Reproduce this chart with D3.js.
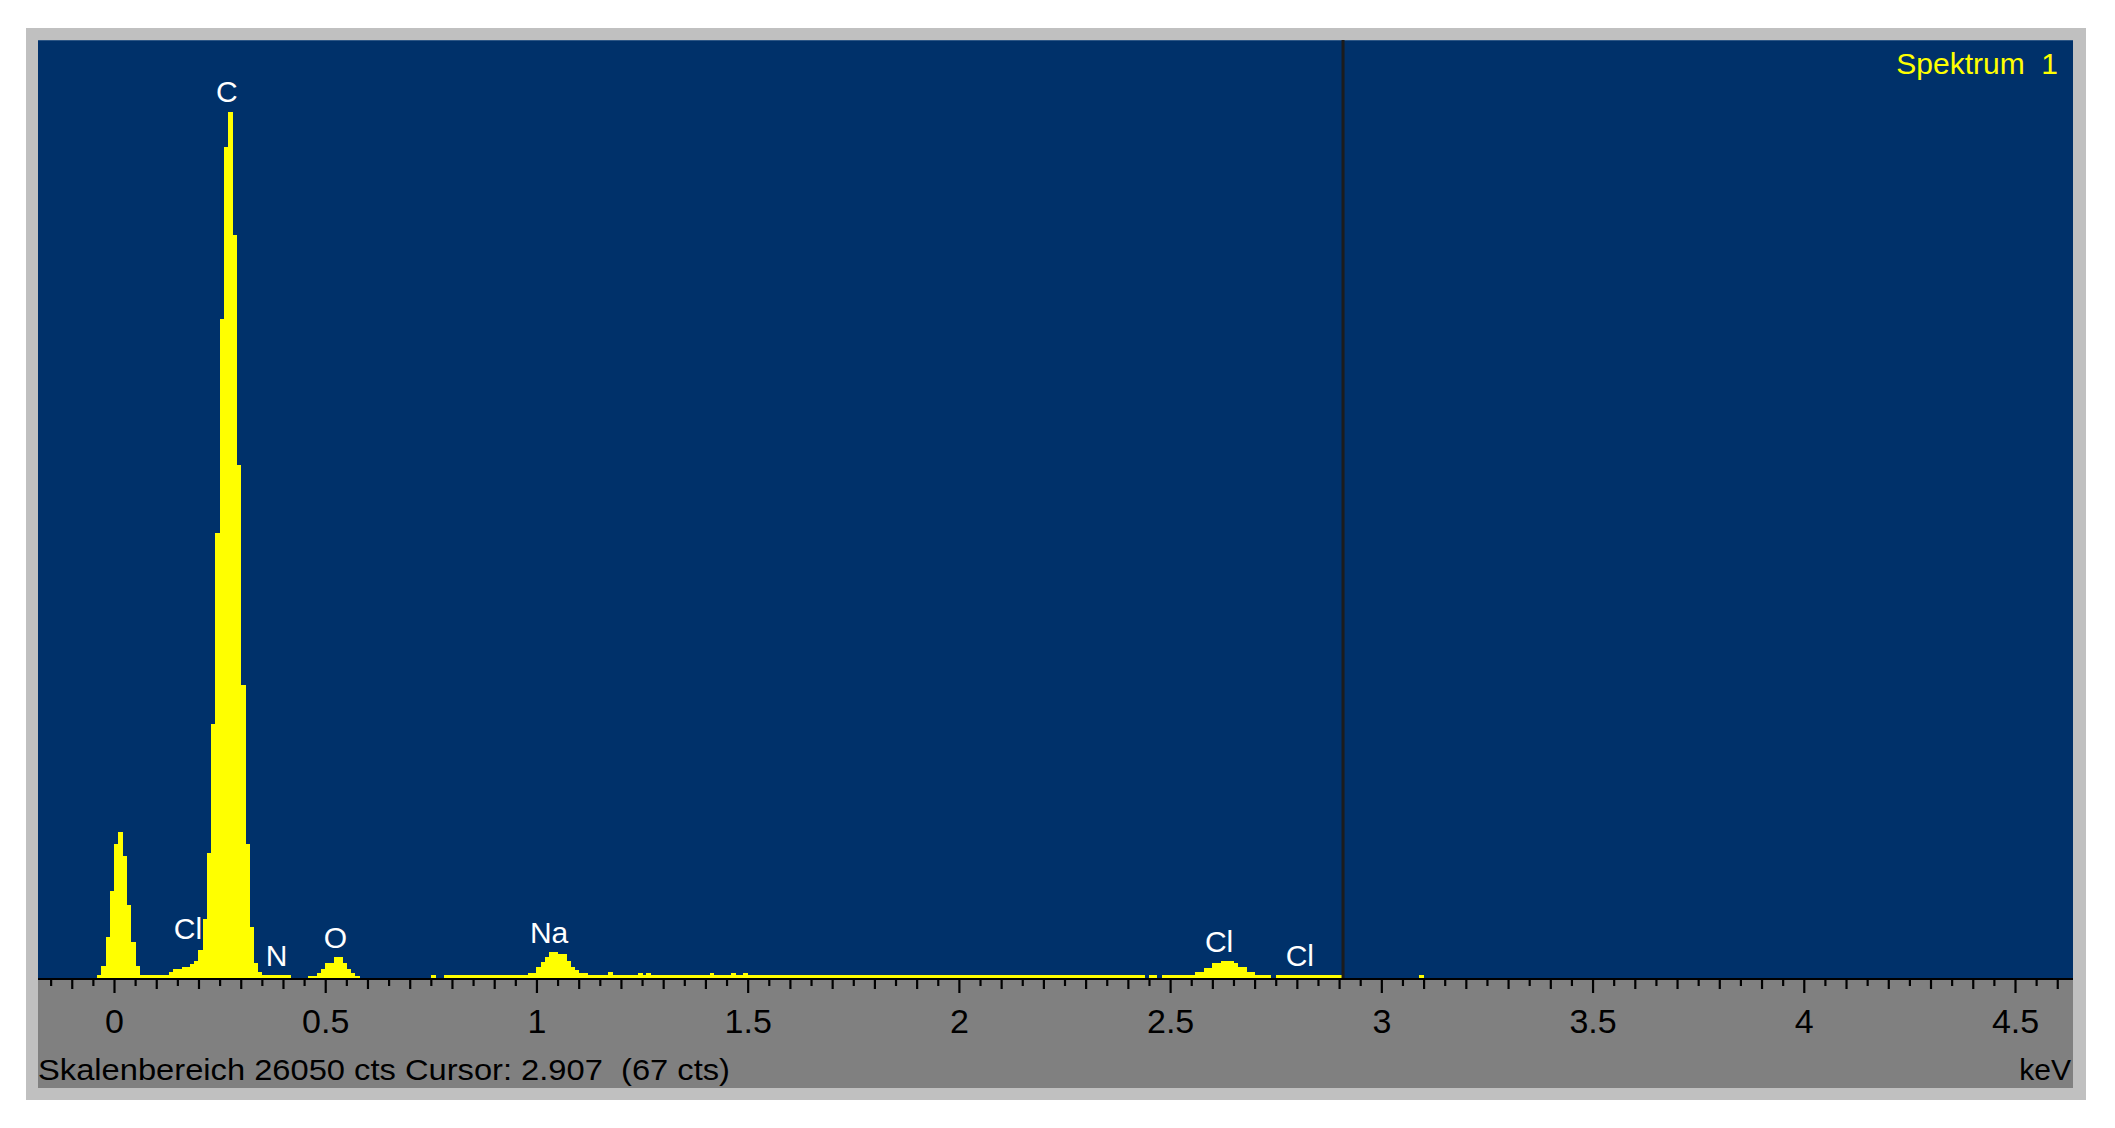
<!DOCTYPE html>
<html>
<head>
<meta charset="utf-8">
<script src="https://cdn.jsdelivr.net/npm/d3@7"></script>
<style>
  html, body { margin: 0; padding: 0; background: #ffffff; }
  svg { display: block; }
  text { font-family: "Liberation Sans", Arial, sans-serif; }
</style>
</head>
<body>
<svg id="chart" width="2115" height="1128"></svg>
<script>
// ---------------- data ----------------
// channel centres (keV) and counts for the peaks (10 eV channels)
const channelKeV = [
  -0.035, -0.025, -0.015, -0.005, 0.005, 0.015, 0.025, 0.035, 0.045, 0.055,
  0.135, 0.145, 0.155, 0.165, 0.175, 0.185, 0.195, 0.205, 0.215, 0.225,
  0.235, 0.245, 0.255, 0.265, 0.275, 0.285, 0.295, 0.305, 0.315, 0.325, 0.335, 0.345,
  0.465, 0.475, 0.485, 0.495, 0.505, 0.515, 0.525, 0.535, 0.545, 0.555, 0.565, 0.575,
  0.755,
  0.985, 0.995, 1.005, 1.015, 1.025, 1.035, 1.045, 1.055, 1.065, 1.075, 1.085, 1.095, 1.105, 1.115,
  1.175, 1.245, 1.265, 1.415, 1.465, 1.495,
  2.565, 2.575, 2.585, 2.595, 2.605, 2.615, 2.625, 2.635, 2.645, 2.655, 2.665, 2.675, 2.685, 2.695
];
const channelCts = [
  83, 333, 1139, 2416, 3721, 4054, 3388, 2027, 1000, 333,
  167, 250, 250, 305, 305, 389, 472, 778, 1638, 3471,
  7054, 12358, 18300, 23077, 24049, 20633, 14246, 8137, 3721, 1416, 417, 167,
  56, 56, 139, 250, 417, 417, 583, 583, 417, 250, 139, 56,
  83,
  147, 147, 314, 453, 575, 730, 730, 666, 666, 480, 314, 222, 147, 147,
  167, 150, 150, 150, 150, 150,
  175, 175, 269, 269, 408, 408, 480, 480, 480, 408, 314, 314, 175, 175
];
// flat background runs: first channel centre, last channel centre, counts
const runFromKeV = [0.065, 0.355, 0.785, 2.455, 2.485, 2.755, 3.095];
const runToKeV   = [0.125, 0.415, 2.435, 2.465, 2.735, 2.905, 3.095];
const runCts     = [83,    83,    75,    75,    75,    75,    75];

const channelWidthKeV = 0.01;

// element labels: text, energy (keV), counts level of the text baseline
const peakLabels    = ["C", "Cl", "N", "O", "Na", "Cl", "Cl"];
const peakLabelKeV  = [0.267, 0.175, 0.385, 0.524, 1.030, 2.616, 2.807];
const peakLabelCts  = [24340, 1083, 341, 841, 980, 730, 341];

// axis
const majorTicks     = [0, 0.5, 1, 1.5, 2, 2.5, 3, 3.5, 4, 4.5];
const majorTickLabels = ["0", "0.5", "1", "1.5", "2", "2.5", "3", "3.5", "4", "4.5"];
const tickStepKeV = 0.05;
const tickFirstKeV = -0.15;
const tickLastKeV = 4.6;

const fullScaleCts = 26050;
const cursorKeV = 2.907;
const cursorCts = 67;
const spectrumName = "Spektrum  1";
const unitLabel = "keV";

// ---------------- drawing ----------------
const svg = d3.select("#chart");

const frame = { x0: 26, y0: 28, x1: 2086, y1: 1100 };
const plot  = { x0: 38, y0: 40, x1: 2073, y1: 978 };
const base  = { y1: 1088 };

const x = d3.scaleLinear().domain([0, 4.5]).range([114, 2015]);
const y = d3.scaleLinear().domain([0, fullScaleCts]).range([plot.y1, plot.y0]);

// outer light-grey frame
svg.append("rect").attr("x", frame.x0).attr("y", frame.y0)
  .attr("width", frame.x1 - frame.x0).attr("height", frame.y1 - frame.y0)
  .attr("fill", "#c0c0c0");

// blue plot area
svg.append("rect").attr("x", plot.x0).attr("y", plot.y0)
  .attr("width", plot.x1 - plot.x0).attr("height", plot.y1 - plot.y0)
  .attr("fill", "#00316a");
svg.append("line").attr("x1", plot.x0).attr("x2", plot.x1)
  .attr("y1", plot.y0 + 0.5).attr("y2", plot.y0 + 0.5)
  .attr("stroke", "#2d5685").attr("stroke-width", 1);

// dark grey axis band
svg.append("rect").attr("x", plot.x0).attr("y", plot.y1)
  .attr("width", plot.x1 - plot.x0).attr("height", base.y1 - plot.y1)
  .attr("fill", "#808080");

const spec = svg.append("g").attr("fill", "#ffff00").attr("shape-rendering", "crispEdges");

// background runs
runFromKeV.forEach((a, i) => {
  const xa = x(a - channelWidthKeV / 2), xb = x(runToKeV[i] + channelWidthKeV / 2);
  spec.append("rect").attr("x", xa).attr("width", xb - xa)
    .attr("y", y(runCts[i])).attr("height", y(0) - y(runCts[i]));
});
// peak channels
channelKeV.forEach((e, i) => {
  const xa = x(e - channelWidthKeV / 2), xb = x(e + channelWidthKeV / 2);
  spec.append("rect").attr("x", xa).attr("width", xb - xa + 0.6)
    .attr("y", y(channelCts[i])).attr("height", y(0) - y(channelCts[i]));
});

// cursor line
svg.append("line")
  .attr("x1", x(cursorKeV) + 1).attr("x2", x(cursorKeV) + 1)
  .attr("y1", plot.y0).attr("y2", plot.y1)
  .attr("stroke", "#1c1c1c").attr("stroke-width", 3);

// axis line
svg.append("rect").attr("x", plot.x0).attr("y", plot.y1)
  .attr("width", plot.x1 - plot.x0).attr("height", 2).attr("fill", "#000");

// ticks via d3 axes (three lengths)
const allTicks = d3.range(Math.round(tickFirstKeV / tickStepKeV), Math.round(tickLastKeV / tickStepKeV) + 1)
  .map(k => +(k * tickStepKeV).toFixed(2));
const isMajor = v => Math.abs(v * 2 - Math.round(v * 2)) < 1e-6;
const isMid = v => !isMajor(v) && Math.abs(v * 10 - Math.round(v * 10)) < 1e-6;
const minorVals = allTicks.filter(v => !isMajor(v) && !isMid(v));
const midVals = allTicks.filter(isMid);

function drawTicks(vals, len) {
  const g = svg.append("g").attr("transform", `translate(0,${plot.y1 + 1})`)
    .call(d3.axisBottom(x).tickValues(vals).tickSize(len).tickFormat(""));
  g.select(".domain").remove();
  g.selectAll(".tick line").attr("stroke", "#000").attr("stroke-width", 2.2);
  return g;
}
drawTicks(minorVals, 7);
drawTicks(midVals, 10);
const gMaj = svg.append("g").attr("transform", `translate(0,${plot.y1 + 1})`)
  .call(d3.axisBottom(x).tickValues(majorTicks).tickSize(14)
    .tickFormat((d, i) => majorTickLabels[i]));
gMaj.select(".domain").remove();
gMaj.selectAll(".tick line").attr("stroke", "#000").attr("stroke-width", 2.2);
gMaj.selectAll(".tick text")
  .attr("y", 54).attr("dy", null)
  .attr("fill", "#000")
  .style("font-family", "'Liberation Sans Narrow', 'Arial Narrow', 'Liberation Sans', sans-serif")
  .style("font-stretch", "condensed")
  .style("font-size", "34px");

// element labels
svg.append("g").selectAll("text").data(peakLabels).join("text")
  .attr("x", (d, i) => x(peakLabelKeV[i]))
  .attr("y", (d, i) => y(peakLabelCts[i]))
  .attr("text-anchor", "middle")
  .attr("fill", "#ffffff")
  .style("font-size", "30px")
  .text(d => d);

// spectrum name
svg.append("text")
  .attr("x", 2058).attr("y", 74)
  .attr("text-anchor", "end")
  .attr("fill", "#ffff00")
  .style("font-size", "30px")
  .style("white-space", "pre")
  .text(spectrumName);

// status line
svg.append("text")
  .attr("x", 38).attr("y", 1080)
  .attr("fill", "#000")
  .style("font-size", "30px")
  .style("white-space", "pre")
  .attr("textLength", 692).attr("lengthAdjust", "spacingAndGlyphs")
  .text(`Skalenbereich ${fullScaleCts} cts Cursor: ${cursorKeV.toFixed(3)}  (${cursorCts} cts)`);

svg.append("text")
  .attr("x", 2071).attr("y", 1080)
  .attr("text-anchor", "end")
  .attr("fill", "#000")
  .style("font-size", "30px")
  .text(unitLabel);
</script>
</body>
</html>
